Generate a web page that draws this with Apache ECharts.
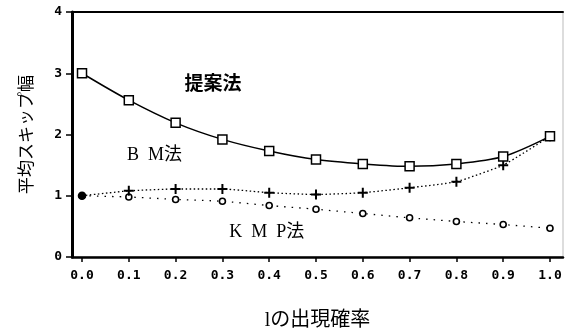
<!DOCTYPE html>
<html>
<head>
<meta charset="utf-8">
<script src="https://cdn.jsdelivr.net/npm/echarts@6/dist/echarts.min.js"></script>
<style>
  html, body { margin: 0; padding: 0; background: #fff; }
  #chart { width: 565px; height: 336px; }
</style>
</head>
<body>
<div id="chart"></div>
<script>
// Occurrence probability of "l" (x axis)
const probs = [0.0, 0.1, 0.2, 0.3, 0.4, 0.5, 0.6, 0.7, 0.8, 0.9, 1.0];
// Average skip width per method
const proposed = [3.00, 2.56, 2.19, 1.92, 1.73, 1.59, 1.52, 1.48, 1.52, 1.64, 1.97];
const bm       = [1.00, 1.08, 1.11, 1.11, 1.05, 1.02, 1.05, 1.13, 1.23, 1.50, 1.97];
const kmp      = [1.00, 0.98, 0.94, 0.91, 0.84, 0.78, 0.71, 0.64, 0.58, 0.53, 0.47];
// Axis ticks
const xTicks = [0.0, 0.1, 0.2, 0.3, 0.4, 0.5, 0.6, 0.7, 0.8, 0.9, 1.0];
const yTicks = [0, 1, 2, 3, 4];
// In-plot method labels: [text, x, y]
const methodLabels = [
  ['提案法', 0.28, 2.80],
  ['B\u2002M法', 0.155, 1.66],
  ['K\u2002M\u2002P法', 0.395, 0.41]
];

const PLUS = 'path://M4,0H6V4H10V6H6V10H4V6H0V4H4Z';
const monoFont = '"DejaVu Sans Mono", monospace';
const cjkFont = '"Noto Sans CJK JP", sans-serif';
const serifCjk = '"Liberation Serif", ' + cjkFont;

const pairs = arr => probs.map((p, i) => [p, arr[i]]);
const firstFilled = (arr, sym, size) => pairs(arr).map((d, i) => i === 0
  ? { value: d, symbol: 'circle', symbolSize: 7, itemStyle: { color: '#000', borderColor: '#000' } }
  : { value: d, symbol: sym, symbolSize: size });

const chart = echarts.init(document.getElementById('chart'), null, { renderer: 'canvas' });

const option = {
  backgroundColor: '#fff',
  animation: false,
  grid: { left: 72, right: 2, top: 12, bottom: 68, show: true, borderColor: '#bbb', borderWidth: 1 },
  xAxis: [{
    type: 'value', min: -0.0214, max: 1.0278,
    name: 'lの出現確率', nameLocation: 'middle', nameGap: 54,
    nameTextStyle: { fontFamily: serifCjk, fontSize: 20, color: '#000' },
    axisLine: { show: true, onZero: false, lineStyle: { color: '#000', width: 2.5 } },
    axisTick: { show: true, length: 5, customValues: xTicks, lineStyle: { color: '#000', width: 1.5 } },
    axisLabel: {
      customValues: xTicks, margin: 12, color: '#000',
      fontFamily: monoFont, fontWeight: 'bold', fontSize: 13,
      formatter: v => v.toFixed(1)
    },
    splitLine: { show: false }
  }, {
    type: 'value', position: 'top', min: -0.0214, max: 1.0278,
    axisLine: { show: true, onZero: false, lineStyle: { color: '#000', width: 2 } },
    axisTick: { show: false }, axisLabel: { show: false }, splitLine: { show: false }
  }],
  yAxis: {
    type: 'value', min: 0, max: 4, interval: 1,
    name: '平均スキップ幅', nameLocation: 'middle', nameGap: 38,
    nameTextStyle: { fontFamily: cjkFont, fontSize: 17, color: '#000' },
    axisLine: { show: true, onZero: false, lineStyle: { color: '#000', width: 3 } },
    axisTick: { show: true, length: 6, lineStyle: { color: '#000', width: 1.5 } },
    axisLabel: {
      margin: 10, color: '#000', fontFamily: monoFont, fontWeight: 'bold', fontSize: 13,
      formatter: v => yTicks.includes(v) ? String(v) : ''
    },
    splitLine: { show: false }
  },
  series: [{
    name: 'KMP法', type: 'line', data: firstFilled(kmp, 'circle', 6),
    smooth: 0.15,
    lineStyle: { color: '#000', width: 1.3, type: [1.5, 6] },
    itemStyle: { color: '#fff', borderColor: '#000', borderWidth: 1.6 },
    z: 3
  }, {
    name: 'BM法', type: 'line', data: firstFilled(bm, PLUS, 10),
    smooth: 0.15,
    lineStyle: { color: '#000', width: 1.3, type: [1.5, 2.5] },
    itemStyle: { color: '#000', borderColor: '#000', borderWidth: 0 },
    z: 4
  }, {
    name: '提案法', type: 'line', data: pairs(proposed),
    smooth: 0.3, symbol: 'rect', symbolSize: 9,
    lineStyle: { color: '#000', width: 1.5 },
    itemStyle: { color: '#fff', borderColor: '#000', borderWidth: 1.5 },
    z: 5
  }]
};
chart.setOption(option);

// Place the method names in data coordinates
chart.setOption({
  graphic: methodLabels.map(([txt, x, y], i) => {
    const [px, py] = chart.convertToPixel({ gridIndex: 0 }, [x, y]);
    return {
      type: 'text', x: px, y: py,
      style: {
        text: txt, fill: '#000',
        font: (i === 0 ? 'bold 19px ' : '18px ') + serifCjk,
        textAlign: 'center', textVerticalAlign: 'middle'
      }
    };
  })
});
</script>
</body>
</html>
